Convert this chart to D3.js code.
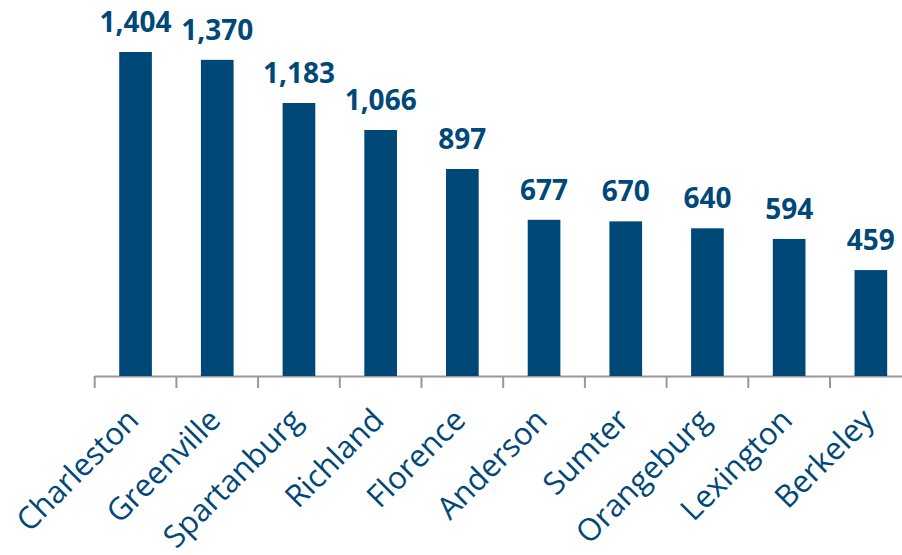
<!DOCTYPE html>
<html><head><meta charset="utf-8">
<script src="https://cdn.jsdelivr.net/npm/d3@7/dist/d3.min.js"></script>
<style>html,body{margin:0;padding:0;background:#fff;}svg{display:block;}</style>
</head><body>
<svg id="chart" width="902" height="555"></svg>
<script>
const categories = ["Charleston","Greenville","Spartanburg","Richland","Florence","Anderson","Sumter","Orangeburg","Lexington","Berkeley"];
const values = [1404,1370,1183,1066,897,677,670,640,594,459];

const svg = d3.select("#chart");
const color = "#004878";
const x = d3.scaleBand().domain(categories).range([94.7, 911.7]).paddingInner(0.6).paddingOuter(0.3);
const y = d3.scaleLinear().domain([0, 1404]).range([376, 52]);

const g = svg.append("g");
const step = x.step();
const x0 = 94.7;
g.append("line").attr("x1", x0).attr("x2", x0 + step*categories.length).attr("y1", 376.5).attr("y2", 376.5)
  .attr("stroke", "#999").attr("stroke-width", 2);
const bounds = d3.range(categories.length + 1).map(i => x0 + i*step);
g.selectAll("line.tick").data(bounds).join("line").attr("class","tick")
  .attr("x1", d => d).attr("x2", d => d).attr("y1", 376).attr("y2", 388)
  .attr("stroke", "#999").attr("stroke-width", 2);

svg.selectAll("rect.bar").data(values).join("rect").attr("class","bar")
  .attr("x", (d,i) => x(categories[i]))
  .attr("width", x.bandwidth())
  .attr("y", d => y(d))
  .attr("height", d => y(0) - y(d))
  .attr("fill", color);

svg.selectAll("text.val").data(values).join("text").attr("class","val")
  .attr("x", (d,i) => x(categories[i]) + x.bandwidth()/2)
  .attr("y", d => y(d) - 20)
  .attr("text-anchor","middle")
  .attr("font-family","'Open Sans', sans-serif")
  .attr("font-weight", 700)
  .attr("font-size", 28)
  .attr("fill", color)
  .text(d => d3.format(",")(d));

svg.selectAll("text.cat").data(categories).join("text").attr("class","cat")
  .attr("transform", d => `translate(${x(d) + x.bandwidth()/2 + 5},${422}) rotate(-45)`)
  .attr("text-anchor","end")
  .attr("font-family","'Open Sans', sans-serif")
  .attr("font-size", 31)
  .attr("fill", color)
  .text(d => d);
</script>
</body></html>
